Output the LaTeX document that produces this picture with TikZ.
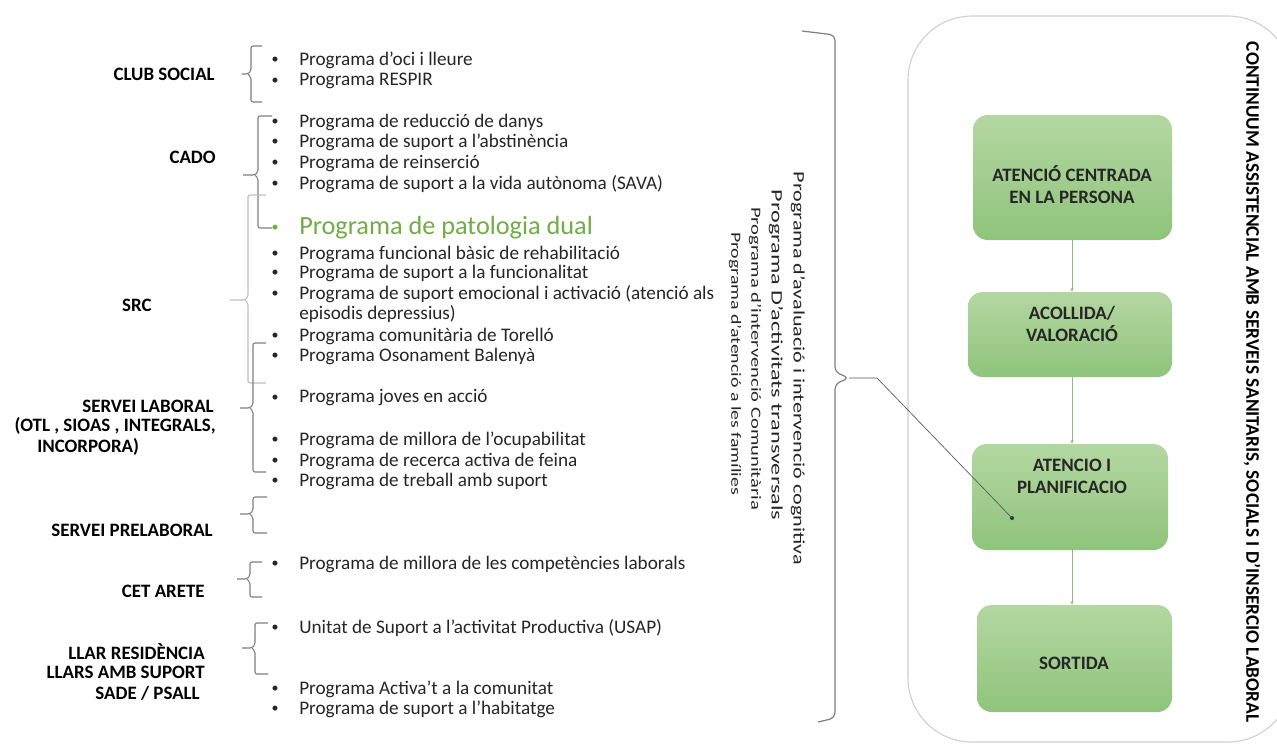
\documentclass[tikz,border=0pt]{standalone}
\usepackage{fontspec}
\setmainfont{Carlito}
\usetikzlibrary{arrows.meta}
\definecolor{txt}{HTML}{262626}
\definecolor{brgray}{HTML}{7F7F7F}
\definecolor{brlight}{HTML}{BFBFBF}
\definecolor{dualgreen}{HTML}{70AD47}
\definecolor{boxtop}{HTML}{B4D7A2}
\definecolor{boxbot}{HTML}{8FC47B}
\definecolor{flowgreen}{HTML}{8CC07A}
\definecolor{panelgray}{HTML}{CFCFCF}
\definecolor{conngray}{HTML}{555555}
\newcommand\progitem[3]{%
  \node[bul] (#1b) at (275,#2) {\textbullet};
  \node[prog] (#1) at (299,#2) {#3};}
\newcommand\mybrace[7]{%
  \draw[#7] (#5,#2) -- (#1,#2) -- (#1,#3-3) -- (#1-3,#3) -- (#6,#3);
  \draw[#7] (#1-3,#3) -- (#1,#3+3) -- (#1,#4) -- (#5,#4);}
\begin{document}
\begin{tikzpicture}[x=0.75pt,y=-0.75pt,
  lab/.style={anchor=east,inner sep=0,font=\fontsize{14.2}{16}\selectfont\bfseries,text=black},
  labw/.style={lab,anchor=west},
  prog/.style={anchor=west,inner sep=0,font=\fontsize{14.4}{16}\selectfont,text=txt},
  bul/.style={inner sep=0,font=\fontsize{10.5}{12}\selectfont,text=txt},
  brc/.style={draw=brgray,line width=0.8pt,rounded corners=1.5pt},
  brcl/.style={draw=brlight,line width=0.8pt,rounded corners=1.5pt},
  gbox/.style={draw=none,rounded corners=11pt,top color=boxtop,bottom color=boxbot,inner sep=0},
  boxtxt/.style={inner sep=0,align=center,font=\fontsize{14.2}{16.5}\selectfont\bfseries,text=black!85},
  flow/.style={draw=flowgreen,line width=0.5pt,-{Stealth[length=3pt,width=2.5pt]}},
  vtxt/.style={rotate=-90,inner sep=0,text=txt},
  conn/.style={draw=conngray,line width=0.5pt},
  dot/.style={circle,fill=black!80,inner sep=0,minimum size=3pt}
]
\useasboundingbox (0,0) rectangle (1277,744);
\fill[white] (0,0) rectangle (1277,744);

% right panel
\draw[panelgray,line width=0.8pt,rounded corners=48pt] (908,16) rectangle (1292,742);

% left labels
\node[lab] (lclub) at (215,74) {CLUB SOCIAL};
\node[lab] (lcado) at (216,157) {CADO};
\node[lab] (lsrc) at (152,305) {SRC};
\node[lab] (llab1) at (214,406) {SERVEI LABORAL};
\node[lab] (llab2) at (216,426) {(OTL , SIOAS , INTEGRALS,};
\node[labw] (llab3) at (37,447) {INCORPORA)};
\node[lab] (lpre) at (213,530) {SERVEI PRELABORAL};
\node[lab] (lcet) at (205,591) {CET ARETE};
\node[lab] (lllar1) at (205,652) {LLAR RESIDÈNCIA};
\node[lab] (lllar2) at (205,672) {LLARS AMB SUPORT};
\node[lab] (lllar3) at (200,693) {SADE / PSALL};

% braces
\mybrace{251}{46}{74}{102}{262}{242}{brc}
\mybrace{258}{116}{175}{228}{272}{243}{brc}
\mybrace{248}{195}{300}{383}{266}{230}{brcl}
\mybrace{253}{343}{408}{472}{266}{240}{brc}
\mybrace{253}{497}{514}{533}{267}{240}{brc}
\mybrace{250}{562}{579}{597}{262}{237}{brc}
\mybrace{255}{623}{648}{674}{268}{242}{brc}

% programme items
\progitem{a1}{60}{Programa d’oci i lleure}
\progitem{a2}{81}{Programa RESPIR}
\progitem{b1}{122}{Programa de reducció de danys}
\progitem{b2}{142}{Programa de suport a l’abstinència}
\progitem{b3}{163}{Programa de reinserció}
\progitem{b4}{184}{Programa de suport a la vida autònoma (SAVA)}
\node[bul,text=dualgreen] (c0b) at (275,228) {\textbullet};
\node[prog,text=dualgreen,font=\fontsize{19.7}{21}\selectfont] (c0) at (299,228) {Programa de patologia dual};
\progitem{c1}{254}{Programa funcional bàsic de rehabilitació}
\progitem{c2}{273}{Programa de suport a la funcionalitat}
\progitem{c3}{294}{Programa de suport emocional i activació (atenció als}
\node[prog] (c3c) at (299,314) {episodis depressius)};
\progitem{c4}{336}{Programa comunitària de Torelló}
\progitem{c5}{356}{Programa Osonament Balenyà}
\progitem{d1}{398}{Programa joves en acció}
\progitem{d2}{440}{Programa de millora de l’ocupabilitat}
\progitem{d3}{461}{Programa de recerca activa de feina}
\progitem{d4}{481}{Programa de treball amb suport}
\progitem{e1}{564}{Programa de millora de les competències laborals}
\progitem{f1}{628}{Unitat de Suport a l’activitat Productiva (USAP)}
\progitem{f2}{689}{Programa Activa’t a la comunitat}
\progitem{f3}{709}{Programa de suport a l’habitatge}

% transversal programmes (vertical)
\node[vtxt,font=\fontsize{12}{14}\selectfont] (v1) at (798,368.5) {\resizebox{294.75pt}{\height}{Programa d’avaluació i intervenció cognitiva}};
\node[vtxt,font=\fontsize{12}{14}\selectfont] (v2) at (776,355) {\resizebox{247.5pt}{\height}{Programa D’activitats transversals}};
\node[vtxt,font=\fontsize{10.5}{12}\selectfont] (v3) at (755,358.5) {\resizebox{227.25pt}{\height}{Programa d’intervenció Comunitària}};
\node[vtxt,font=\fontsize{10.5}{12}\selectfont] (v4) at (735,363.5) {\resizebox{197.25pt}{\height}{Programa d’atenció a les famílies}};

% big brace
\draw[brgray,line width=0.9pt,rounded corners=4pt] (802,31) -- (835,35) -- (835,372) -- (849,378) -- (835,384) -- (835,718) -- (818,722);

% green boxes
\node[gbox,minimum width=149.25pt,minimum height=93.75pt] (acp) at (1072.5,177.5) {};
\node[gbox,minimum width=153pt,minimum height=63.75pt] (acv) at (1070,334.5) {};
\node[gbox,minimum width=147pt,minimum height=79.5pt] (apl) at (1070,497) {};
\node[gbox,minimum width=146.25pt,minimum height=80.25pt] (sor) at (1074.5,658.5) {};
\node[boxtxt] (acpt) at (1072,185) {ATENCIÓ CENTRADA\\EN LA PERSONA};
\node[boxtxt] (acvt) at (1072,324) {ACOLLIDA/\\VALORACIÓ};
\node[boxtxt] (aplt) at (1072,476) {ATENCIO I\\PLANIFICACIO};
\node[boxtxt] (sort) at (1074,663) {SORTIDA};

% flow arrows
\draw[flow] (acp.south -| acpt) -- (acv.north -| acpt);
\draw[flow] (acv.south -| acpt) -- (apl.north -| acpt);
\draw[flow] (apl.south -| acpt) -- (sor.north -| acpt);

% connector from brace to box
\coordinate (tip) at (849,378);
\coordinate (bend) at (877,378);
\node[dot] (pt) at (1012,518) {};
\draw[conn] (tip) -- (bend) -- (pt.center);

% title
\node[vtxt,text=black] (title) at (1252,382) {\resizebox{510pt}{!}{\bfseries CONTINUUM ASSISTENCIAL AMB SERVEIS SANITARIS, SOCIALS I D’INSERCIO LABORAL}};
\end{tikzpicture}
\end{document}
